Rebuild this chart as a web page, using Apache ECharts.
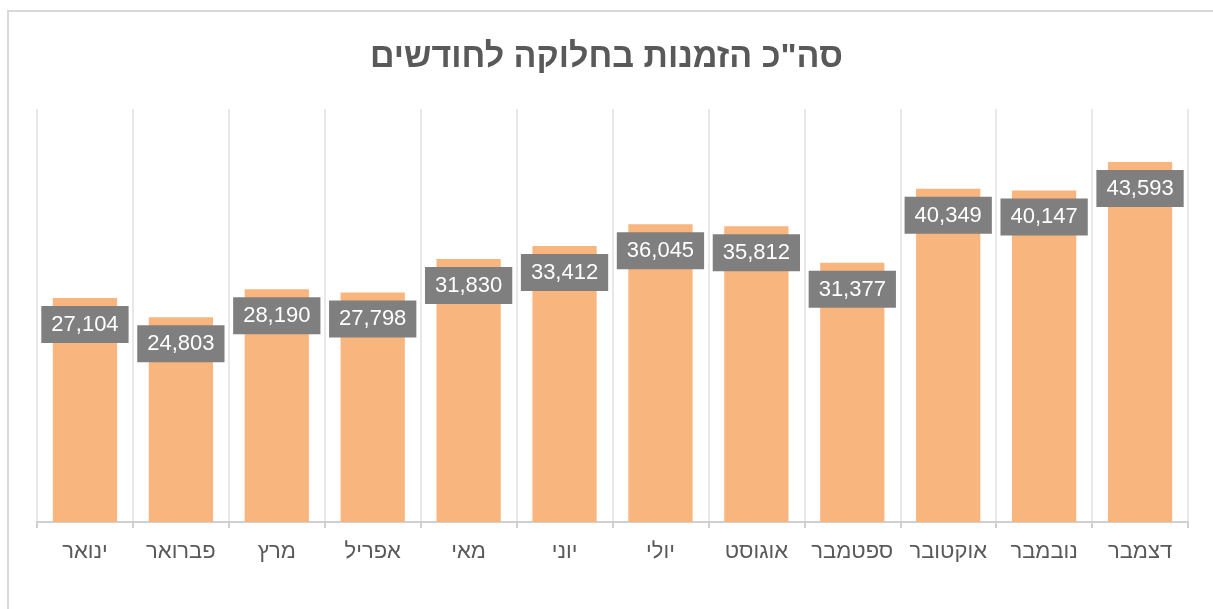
<!DOCTYPE html>
<html>
<head>
<meta charset="utf-8">
<script src="https://cdn.jsdelivr.net/npm/echarts@6/dist/echarts.min.js"></script>
<style>
  html, body { margin: 0; padding: 0; background: #fff; }
  #chart { width: 1213px; height: 609px; }
</style>
</head>
<body>
<div id="chart"></div>
<script>
// חודשים וסה"כ הזמנות
const months = ['ינואר', 'פברואר', 'מרץ', 'אפריל', 'מאי', 'יוני', 'יולי', 'אוגוסט', 'ספטמבר', 'אוקטובר', 'נובמבר', 'דצמבר']
const orders = [27104, 24803, 28190, 27798, 31830, 33412, 36045, 35812, 31377, 40349, 40147, 43593]
const titleText = 'סה"כ הזמנות בחלוקה לחודשים'

const font = "'Liberation Sans', 'DejaVu Sans', sans-serif"
const chart = echarts.init(document.getElementById('chart'))

let options = {
  animation: false,
  title: {
    text: titleText,
    left: 'center',
    top: 36,
    textStyle: {
      fontFamily: font,
      fontSize: 34,
      fontWeight: 'bold',
      color: '#595959'
    }
  },
  graphic: [{
    type: 'rect',
    shape: { x: 8, y: 11, width: 1230, height: 640 },
    style: { fill: 'none', stroke: '#d9d9d9', lineWidth: 2 },
    silent: true
  }],
  grid: {
    left: 37,
    right: 25,
    top: 109,
    bottom: 87
  },
  xAxis: {
    type: 'category',
    data: months,
    axisLine: { lineStyle: { color: '#d0d0d0', width: 2 } },
    axisTick: { show: true, interval: 0, length: 6, lineStyle: { color: '#d0d0d0', width: 2 } },
    splitLine: { show: true, interval: 0, lineStyle: { color: '#e8e8e8', width: 2 } },
    axisLabel: {
      interval: 0,
      fontFamily: font,
      fontSize: 22,
      color: '#595959',
      margin: 19
    }
  },
  yAxis: {
    type: 'value',
    min: 0,
    max: 50000,
    show: false,
    splitLine: { show: false }
  },
  series: [{
    type: 'bar',
    data: orders,
    barCategoryGap: '33%',
    itemStyle: { color: '#F9B57E' },
    label: {
      show: true,
      position: 'insideTop',
      distance: 8,
      formatter: p => p.value.toLocaleString('en-US'),
      fontFamily: font,
      fontSize: 22,
      color: '#ffffff',
      backgroundColor: '#7f7f7f',
      padding: [8, 10, 7, 10]
    }
  }]
}
chart.setOption(options)
</script>
</body>
</html>
